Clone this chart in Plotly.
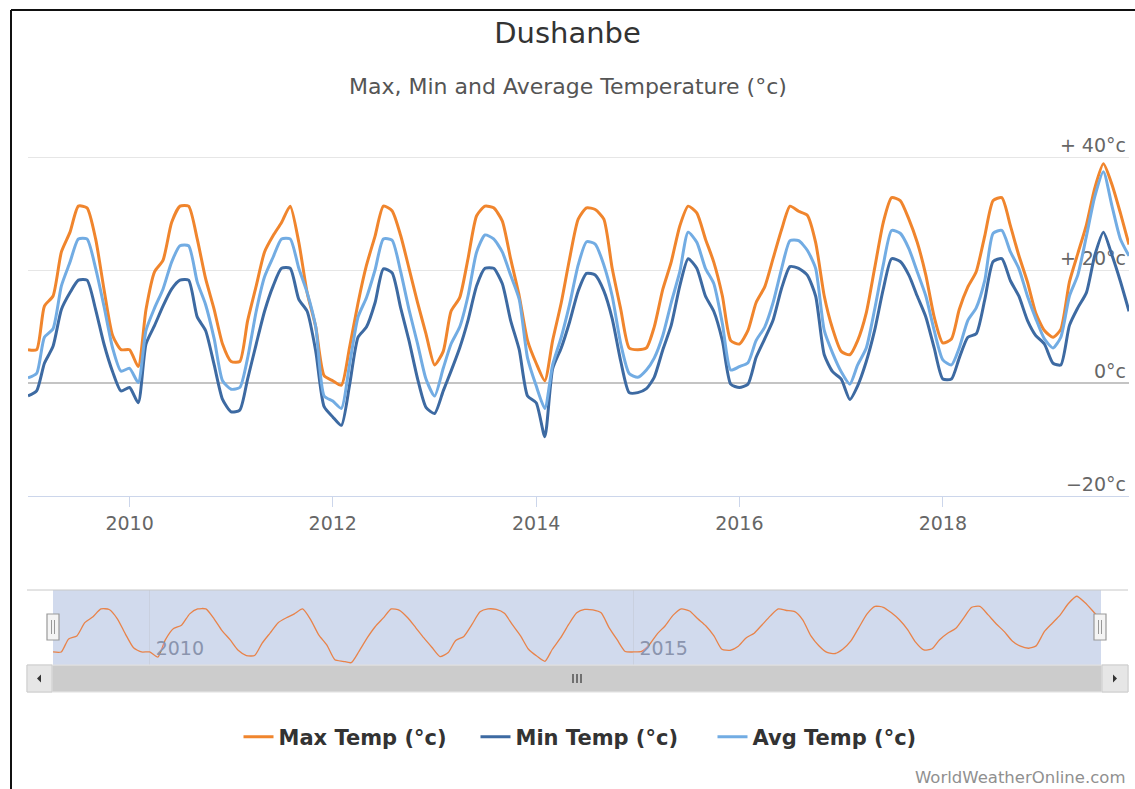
import plotly.graph_objects as go
import pandas as pd

# ---------------- data (monthly, Jan 2009 .. Nov 2019) ----------------
dates = pd.date_range("2009-01-01", "2019-11-01", freq="MS")

max_temp = [
    5.9, 5.9, 13.6, 15.4, 23.2, 26.7, 31.3, 31.0, 25.5, 16.6, 8.4, 5.9,      # 2009
    5.9, 2.9, 13.0, 19.7, 21.7, 28.4, 31.3, 31.3, 25.5, 18.5, 13.0, 6.9,     # 2010
    3.8, 3.8, 11.0, 17.2, 23.2, 26.1, 28.4, 31.3, 24.9, 16.0, 9.9, 1.3,      # 2011
    0.4, -0.4, 6.2, 14.2, 20.8, 26.0, 31.3, 30.5, 26.1, 20.3, 14.2, 8.7,     # 2012
    3.2, 5.6, 12.7, 15.1, 22.0, 29.6, 31.3, 31.0, 28.7, 22.0, 15.4, 7.5,     # 2013
    3.5, 0.4, 7.5, 14.2, 22.0, 29.0, 31.0, 30.7, 29.0, 20.3, 13.0, 6.2,      # 2014
    5.9, 6.2, 9.9, 16.6, 21.4, 27.8, 31.3, 30.1, 25.5, 21.4, 15.4, 7.5,      # 2015
    6.9, 9.3, 14.2, 17.0, 22.0, 27.2, 31.3, 30.4, 29.7, 24.9, 15.4, 9.6,     # 2016
    5.6, 5.0, 7.5, 12.4, 20.3, 28.4, 32.8, 32.3, 29.0, 24.9, 19.1, 11.7,     # 2017
    7.1, 7.8, 13.0, 17.0, 19.7, 26.1, 32.3, 32.8, 27.8, 22.6, 17.9, 12.4,    # 2018
    9.3, 8.1, 9.5, 17.9, 22.9, 28.0, 34.5, 38.8, 35.1, 30.1, 24.5,           # 2019
]
min_temp = [
    -2.3, -1.4, 3.5, 6.5, 13.0, 16.0, 18.2, 18.2, 13.0, 6.9, 2.0, -1.4,
    -0.8, -3.5, 6.9, 10.2, 13.6, 16.6, 18.2, 18.2, 11.7, 9.3, 3.2, -2.9,
    -5.1, -4.8, 0.7, 6.9, 12.7, 17.2, 20.3, 20.3, 14.8, 12.7, 5.6, -4.2,
    -6.0, -7.5, -0.5, 8.1, 9.9, 14.2, 20.2, 19.5, 13.3, 7.5, 0.7, -4.3,
    -5.4, -1.4, 2.1, 6.2, 11.1, 17.2, 20.3, 20.3, 17.6, 11.1, 5.9, -2.3,
    -3.5, -9.5, 2.5, 6.2, 10.8, 16.3, 19.4, 19.1, 16.3, 11.4, 3.8, -1.7,
    -1.7, -1.0, 1.0, 5.9, 10.2, 17.2, 22.0, 20.3, 15.4, 12.7, 7.5, -0.2,
    -0.8, -0.2, 4.5, 7.8, 11.1, 16.8, 20.6, 20.3, 19.1, 15.4, 5.0, 2.0,
    0.7, -2.9, -0.5, 3.8, 9.3, 16.6, 22.0, 21.5, 19.1, 15.4, 11.7, 6.2,
    0.7, 0.7, 4.4, 8.1, 8.7, 14.8, 21.5, 22.0, 18.1, 15.4, 11.1, 8.4,
    6.9, 3.5, 3.2, 10.2, 13.3, 16.0, 22.6, 26.7, 22.6, 18.0, 12.7,
]
avg_temp = [
    0.9, 1.7, 8.1, 9.6, 17.2, 21.4, 25.5, 25.5, 20.3, 13.6, 6.2, 2.1,
    2.6, 0.1, 9.3, 13.3, 16.6, 21.4, 24.3, 24.3, 17.9, 13.9, 7.8, 0.4,
    -1.1, -0.8, 4.4, 12.7, 18.8, 22.3, 25.5, 25.5, 20.3, 16.0, 9.9, -2.3,
    -3.2, -4.5, 3.2, 11.7, 15.1, 20.0, 25.5, 25.3, 19.7, 13.0, 6.9, 0.7,
    -2.3, 2.6, 6.9, 9.9, 15.4, 23.2, 26.2, 25.5, 23.2, 19.1, 14.8, 4.4,
    -0.5, -4.5, 3.2, 8.1, 13.9, 20.9, 25.0, 24.6, 20.9, 15.4, 6.9, 1.7,
    1.0, 2.3, 4.4, 8.4, 14.2, 19.7, 26.7, 24.9, 20.3, 17.6, 10.5, 2.3,
    2.9, 3.6, 7.5, 9.9, 14.2, 20.3, 25.2, 25.2, 23.5, 20.3, 9.3, 5.3,
    2.0, -0.2, 3.2, 6.2, 13.0, 20.9, 27.0, 26.5, 23.8, 19.7, 15.4, 9.3,
    4.1, 3.2, 6.2, 11.1, 13.3, 18.2, 26.5, 27.0, 23.2, 20.3, 15.4, 11.4,
    7.8, 6.2, 8.1, 15.4, 19.1, 26.0, 33.0, 37.4, 31.3, 25.5, 22.5,
]

series_names = ["Max Temp (°c)", "Min Temp (°c)", "Avg Temp (°c)"]
series_colors = ["#f0852d", "#3d6aa2", "#72ace3"]

y_tickvals = [-20, 0, 20, 40]
y_ticktext = ["−20°c", "0°c", "+ 20°c", "+ 40°c"]
x_tickvals = ["2010-01-01", "2012-01-01", "2014-01-01", "2016-01-01", "2018-01-01"]
x_ticktext = ["2010", "2012", "2014", "2016", "2018"]
nav_tickvals = ["2010-01-01", "2015-01-01"]
nav_ticktext = ["2010", "2015"]

title_text = "Dushanbe"
subtitle_text = "Max, Min and Average Temperature (°c)"
credit_text = "WorldWeatherOnline.com"

# ---------------- figure ----------------
W, H = 1135, 789
FONT = "DejaVu Sans, Verdana, sans-serif"


def px(x):
    return x / W


def py(y):
    return 1 - y / H


fig = go.Figure()
for name, vals, col in zip(series_names, [max_temp, min_temp, avg_temp], series_colors):
    fig.add_trace(go.Scatter(
        x=dates, y=vals, name=name, mode="lines",
        line=dict(color=col, width=3, shape="spline", smoothing=0.6),
        xaxis="x", yaxis="y", hoverinfo="skip",
    ))

# navigator series
fig.add_trace(go.Scatter(
    x=dates, y=max_temp, mode="lines", showlegend=False,
    line=dict(color="#e8834a", width=1.3, shape="spline", smoothing=0.6),
    xaxis="x2", yaxis="y2", hoverinfo="skip",
))

xrange = [dates[0], dates[-1]]

shapes = []
# navigator mask
shapes.append(dict(type="rect", xref="paper", yref="paper", x0=px(53), x1=px(1101), y0=py(665), y1=py(590),
                   fillcolor="rgba(102,133,194,0.3)", line=dict(width=0), layer="below"))
# navigator outline top
shapes.append(dict(type="line", xref="paper", yref="paper", x0=px(27), x1=px(1128), y0=py(590), y1=py(590),
                   line=dict(color="#c8c8c8", width=1)))
# scrollbar track
shapes.append(dict(type="rect", xref="paper", yref="paper", x0=px(27), x1=px(1128), y0=py(692), y1=py(665),
                   fillcolor="#f2f2f2", line=dict(color="#e0e0e0", width=1)))
# thumb
shapes.append(dict(type="rect", xref="paper", yref="paper", x0=px(53), x1=px(1101), y0=py(691), y1=py(666),
                   fillcolor="#cccccc", line=dict(color="#cccccc", width=1)))
# buttons
for x0, x1 in [(27, 52), (1102, 1128)]:
    shapes.append(dict(type="rect", xref="paper", yref="paper", x0=px(x0), x1=px(x1), y0=py(692), y1=py(665),
                       fillcolor="#e6e6e6", line=dict(color="#cccccc", width=1)))
# arrows
shapes.append(dict(type="path", xref="paper", yref="paper",
                   path=f"M {px(37)} {py(678.5)} L {px(41)} {py(674.5)} L {px(41)} {py(682.5)} Z",
                   fillcolor="#333333", line=dict(width=0)))
shapes.append(dict(type="path", xref="paper", yref="paper",
                   path=f"M {px(1117)} {py(678.5)} L {px(1113)} {py(674.5)} L {px(1113)} {py(682.5)} Z",
                   fillcolor="#333333", line=dict(width=0)))
# grip
for gx in [573, 577, 581]:
    shapes.append(dict(type="line", xref="paper", yref="paper", x0=px(gx), x1=px(gx), y0=py(674), y1=py(683),
                       line=dict(color="#333333", width=1.2)))
# handles
for hx in [47, 1094]:
    shapes.append(dict(type="rect", xref="paper", yref="paper", x0=px(hx), x1=px(hx + 12), y0=py(640), y1=py(614),
                       fillcolor="#f4f4f4", line=dict(color="#999999", width=1.2)))
    for d in [4.5, 7.5]:
        shapes.append(dict(type="line", xref="paper", yref="paper", x0=px(hx + d), x1=px(hx + d),
                           y0=py(620), y1=py(634), line=dict(color="#999999", width=1)))
# frame border
shapes.append(dict(type="line", xref="paper", yref="paper", x0=px(11), x1=1, y0=py(10), y1=py(10),
                   line=dict(color="#111111", width=2)))
shapes.append(dict(type="line", xref="paper", yref="paper", x0=px(11), x1=px(11), y0=py(10), y1=0,
                   line=dict(color="#111111", width=2)))

annotations = [
    dict(text=subtitle_text, xref="paper", yref="paper", x=0.5, y=py(86), xanchor="center", yanchor="middle",
         showarrow=False, font=dict(family=FONT, size=22, color="#555555")),
    dict(text=credit_text, xref="paper", yref="paper", x=px(1127), y=py(777), xanchor="right", yanchor="middle",
         showarrow=False, font=dict(family=FONT, size=16.5, color="#909090")),
]

# y range slightly above 40 so the +40 gridline is drawn
ppd = (496 - 157) / 60.0
y_top = 41

fig.update_layout(
    width=W, height=H,
    margin=dict(l=0, r=0, t=0, b=0, autoexpand=False),
    paper_bgcolor="white", plot_bgcolor="white",
    font=dict(family=FONT),
    title=dict(text=title_text, x=0.5, xanchor="center", y=py(33), yanchor="middle",
               font=dict(family=FONT, size=29, color="#333333")),
    xaxis=dict(domain=[px(28), px(1129)], range=xrange, type="date", anchor="y", automargin=False,
               tickvals=x_tickvals, ticktext=x_ticktext, showgrid=False,
               showline=True, linecolor="#ccd6eb", linewidth=1,
               ticks="outside", ticklen=10, tickcolor="#ccd6eb",
               tickfont=dict(size=19, color="#666666"), fixedrange=True),
    yaxis=dict(domain=[py(496), py(157 - (y_top - 40) * ppd)], range=[-20, y_top], anchor="x",
               automargin=False,
               tickvals=y_tickvals, ticktext=y_ticktext, side="right",
               ticklabelposition="inside", ticklabelshift=-12, ticklabeloverflow="allow",
               showgrid=True, gridcolor="#e6e6e6", gridwidth=1,
               zeroline=True, zerolinecolor="#c4c4c4", zerolinewidth=2,
               showline=False, layer="below traces",
               tickfont=dict(size=19, color="#666666"), fixedrange=True),
    xaxis2=dict(domain=[px(53), px(1101)], range=xrange, type="date", anchor="y2", automargin=False,
                tickvals=nav_tickvals, ticktext=nav_ticktext, showgrid=True, gridcolor="#c9d0df",
                ticklabelposition="inside right", ticklabelshift=6, ticks="", showline=False, zeroline=False,
                tickfont=dict(size=19, color="#8a94ad"), fixedrange=True),
    yaxis2=dict(domain=[py(665), py(590)], range=[-1.8, 42.5], anchor="x2", visible=False,
                automargin=False, showgrid=False, fixedrange=True),
    legend=dict(orientation="h", x=px(594), xanchor="center", y=py(737), yanchor="middle",
                font=dict(family=FONT, size=21, color="#333333", weight="bold"),
                entrywidth=192, entrywidthmode="pixels", bgcolor="rgba(0,0,0,0)"),
    shapes=shapes,
    annotations=annotations,
)

fig.write_html("out.html", config={"displayModeBar": False},
               post_script="document.body.style.margin='0';")
